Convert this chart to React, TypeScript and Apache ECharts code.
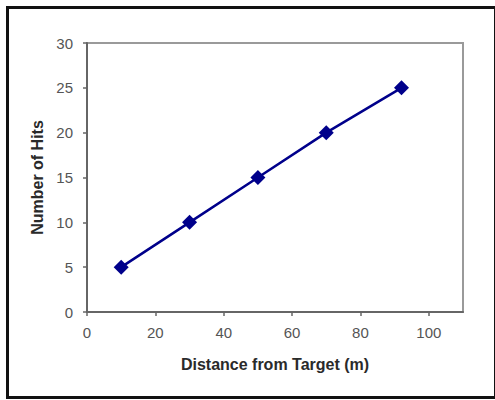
import React, { useEffect, useRef } from "react";
import * as echarts from "echarts";

const distances = [10, 30, 50, 70, 92];
const hits = [5, 10, 15, 20, 25];
const xTicks = [0, 20, 40, 60, 80, 100];
const xTitle = "Distance from Target (m)";
const yTitle = "Number of Hits";

export default function App() {
  const ref = useRef<HTMLDivElement>(null);
  useEffect(() => {
    if (!ref.current) return;
    const chart = echarts.init(ref.current, null, { renderer: "svg" });
    chart.setOption({
      animation: false,
      backgroundColor: "#ffffff",
      textStyle: { fontFamily: "Liberation Sans, Arial, sans-serif" },
      graphic: [
        {
          type: "rect",
          shape: { x: 7.5, y: 7.5, width: 488, height: 390 },
          style: { fill: "none", stroke: "#111", lineWidth: 3 },
          silent: true,
        },
      ],
      grid: {
        left: 87,
        right: 32,
        top: 43,
        bottom: 88,
        show: true,
        borderColor: "#9a9a9a",
        borderWidth: 2,
        backgroundColor: "transparent",
      },
      xAxis: {
        type: "value",
        min: 0,
        max: 110,
        interval: 20,
        name: xTitle,
        nameLocation: "middle",
        nameGap: 44,
        nameTextStyle: { fontSize: 16, fontWeight: "bold", color: "#2a2a2a", fontFamily: "Liberation Sans, Arial, sans-serif" },
        axisLine: { show: true, onZero: false, lineStyle: { color: "#666", width: 2 } },
        axisTick: { show: true, length: 4, customValues: xTicks, lineStyle: { color: "#666", width: 1.5 } },
        axisLabel: { margin: 13, fontSize: 15, color: "#555", customValues: xTicks },
        splitLine: { show: false },
      },
      yAxis: {
        type: "value",
        min: 0,
        max: 30,
        interval: 5,
        name: yTitle,
        nameLocation: "middle",
        nameGap: 42,
        nameTextStyle: { fontSize: 16, fontWeight: "bold", color: "#2a2a2a", fontFamily: "Liberation Sans, Arial, sans-serif" },
        axisLine: { show: true, onZero: false, lineStyle: { color: "#666", width: 2 } },
        axisTick: { show: true, length: 4, lineStyle: { color: "#666", width: 1.5 } },
        axisLabel: { margin: 14, fontSize: 15, color: "#555" },
        splitLine: { show: false },
      },
      series: [
        {
          type: "line",
          data: distances.map((d, i) => [d, hits[i]]),
          symbol: "diamond",
          symbolSize: 15,
          lineStyle: { color: "#00008b", width: 2.5 },
          itemStyle: { color: "#00008b" },
        },
      ],
    });
    return () => chart.dispose();
  }, []);
  return (
    <div
      ref={ref}
      style={{ position: "absolute", left: 0, top: 0, width: 495, height: 400 }}
    />
  );
}
